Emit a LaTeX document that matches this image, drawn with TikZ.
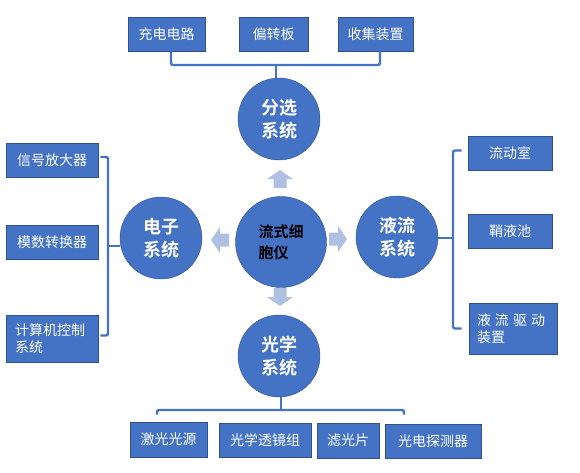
\documentclass[tikz,border=0pt]{standalone}
\usepackage{fontspec}
\usepackage{xcolor}
\usetikzlibrary{calc}
\newfontfamily\cjk[BoldFont={Noto Sans CJK SC Bold}]{Noto Sans CJK SC}
\definecolor{office}{HTML}{4472C4}
\definecolor{officedark}{HTML}{2F528F}
\definecolor{paleblue}{HTML}{AFC0E3}

\begin{document}
\begin{tikzpicture}[x=1pt,y=-1pt,
  font=\cjk\fontsize{14}{17}\selectfont,
  part/.style={draw=officedark, fill=office, text=white, line width=0.6pt, inner sep=2pt, minimum height=34pt, align=left},
  sys/.style={circle, draw=officedark, fill=office, text=white, minimum size=82pt, inner sep=0pt, align=center,
    font=\cjk\bfseries\fontsize{18}{23}\selectfont},
  hub/.style={sys, minimum size=91pt, text=black, align=left, font=\cjk\bfseries\fontsize{15}{21}\selectfont},
  brk/.style={draw=office, line width=2.4pt, rounded corners=2pt},
  blkarrow/.pic={\fill[paleblue] (-9,-6.5) -- (0,-6.5) -- (0,-13) -- (9,0) -- (0,13) -- (0,6.5) -- (-9,6.5) -- cycle;}]
\useasboundingbox (0,0) rectangle (580,473);
% ----- systems
\node[hub] (fcm) at (281,242) {流式细\\胞仪};
\node[sys] (sort) at (279,119) {分选\\系统};
\node[sys] (elec) at (161,238) {电子\\系统};
\node[sys] (liq) at (397,237) {液流\\系统};
\node[sys] (opt) at (279,356) {光学\\系统};
\pic[rotate=90] (aup) at (280,179) {blkarrow};
\pic[rotate=180] (aleft) at (220,240) {blkarrow};
\pic (aright) at (338,239) {blkarrow};
\pic[rotate=-90] (adown) at (280,297) {blkarrow};
% ----- sorting parts (top)
\node[part, minimum width=77pt] (charge) at (166.5,34) {充电电路};
\node[part, minimum width=69pt] (plate) at (273.5,34) {偏转板};
\node[part, minimum width=75pt] (collect) at (375.5,34) {收集装置};
\coordinate (topbar) at (276,65);
\draw[brk] ([xshift=4.5]charge.south) |- (topbar) -| ([xshift=4.5]collect.south);
\draw[brk] (topbar) -- (topbar|-sort.north);
% ----- electronic parts (left)
\node[part, minimum width=92pt] (amp) at (52,160) {信号放大器};
\node[part, minimum width=92pt] (adc) at (52,242.5) {模数转换器};
\node[part, minimum width=92pt, minimum height=47pt, text width=74pt] (ctrl) at (52,338.5) {计算机控制\\系统};
\coordinate (leftbar) at (108,246);
\draw[brk] ([xshift=2,yshift=3]amp.east) -| (leftbar) |- ([xshift=2,yshift=3]ctrl.east);
\draw[brk] (leftbar) -- (leftbar-|elec.west);
% ----- fluidic parts (right)
\node[part, minimum width=84pt] (flow) at (510,153.5) {流动室};
\node[part, minimum width=84pt] (sheath) at (510,231) {鞘液池};
\node[part, minimum width=88pt, minimum height=51pt, text width=72pt] (drive) at (513,328.5) {液\hspace{4pt}流\hspace{4pt}驱\hspace{4pt}动\\装置};
\coordinate (rightbar) at (453,238);
\draw[brk] ([xshift=-6,yshift=3]flow.west) -| (rightbar) |- ([xshift=-7]drive.west);
\draw[brk] (rightbar) -- (rightbar-|liq.east);
% ----- optical parts (bottom)
\node[part, minimum width=77pt, minimum height=35pt] (laser) at (168.5,439.5) {激光光源};
\node[part, minimum width=92pt] (lens) at (265,440) {光学透镜组};
\node[part, minimum width=62pt, minimum height=35pt] (filter) at (348,440.5) {滤光片};
\node[part, minimum width=96pt] (detect) at (433,441) {光电探测器};
\coordinate (botbar) at (281,410);
\draw[brk] ([xshift=-11.5,yshift=7]laser.north) |- (botbar) -| ([xshift=-29,yshift=9]detect.north);
\draw[brk] (botbar) -- (botbar|-opt.south);
\end{tikzpicture}
\end{document}
